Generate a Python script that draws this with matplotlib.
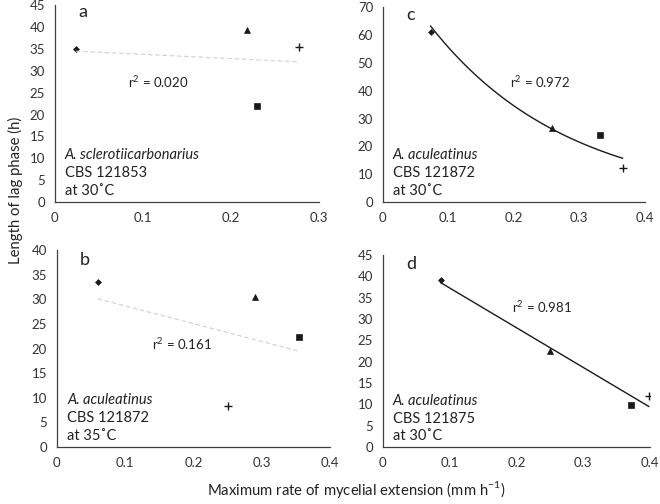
import numpy as np
import matplotlib
matplotlib.use("Agg")
import matplotlib.pyplot as plt

plt.rcParams['font.family'] = ['Lato', 'DejaVu Sans']
plt.rcParams['mathtext.fontset'] = 'custom'
plt.rcParams['mathtext.rm'] = 'Lato'

# panel a: A. sclerotiicarbonarius CBS 121853, 30 C
a_x = [0.024, 0.218, 0.230, 0.278]
a_y = [34.9, 39.3, 21.9, 35.5]
# panel b: A. aculeatinus CBS 121872, 35 C
b_x = [0.060, 0.290, 0.355, 0.250]
b_y = [33.5, 30.5, 22.3, 8.3]
# panel c: A. aculeatinus CBS 121872, 30 C
c_x = [0.073, 0.258, 0.332, 0.366]
c_y = [61.0, 26.6, 24.0, 12.4]
# panel d: A. aculeatinus CBS 121875, 30 C
d_x = [0.0865, 0.250, 0.372, 0.398]
d_y = [39.1, 22.5, 9.8, 11.9]

markers = ['D', '^', 's', '+']
msizes = [3, 5, 5, 6]

panels = [
    dict(name='a', x=a_x, y=a_y, fit='lin', dashed=True, r2='0.020',
         xmax=0.3, xticks=[0, 0.1, 0.2, 0.3], ymax=45, ystep=5,
         species='A. sclerotiicarbonarius', strain='CBS 121853', temp='at 30˚C',
         r2pos=(0.083, 27.4), lab=(0.09, 0.965), pos=[0.083, 0.599, 0.400, 0.391]),
    dict(name='c', x=c_x, y=c_y, fit='exp', dashed=False, r2='0.972',
         xmax=0.4, xticks=[0, 0.1, 0.2, 0.3, 0.4], ymax=70, ystep=10,
         species='A. aculeatinus', strain='CBS 121872', temp='at 30˚C',
         r2pos=(0.194, 43), lab=(0.088, 0.96), pos=[0.580, 0.599, 0.397, 0.387]),
    dict(name='b', x=b_x, y=b_y, fit='lin', dashed=True, r2='0.161',
         xmax=0.4, xticks=[0, 0.1, 0.2, 0.3, 0.4], ymax=40, ystep=5,
         species='A. aculeatinus', strain='CBS 121872', temp='at 35˚C',
         r2pos=(0.139, 20.9), lab=(0.084, 0.95), pos=[0.086, 0.113, 0.414, 0.391]),
    dict(name='d', x=d_x, y=d_y, fit='lin', dashed=False, r2='0.981',
         xmax=0.4, xticks=[0, 0.1, 0.2, 0.3, 0.4], ymax=45, ystep=5,
         species='A. aculeatinus', strain='CBS 121875', temp='at 30˚C',
         r2pos=(0.194, 32.9), lab=(0.086, 0.953), pos=[0.580, 0.113, 0.405, 0.381]),
]

fig = plt.figure(figsize=(6.6, 5.04), dpi=100)

for p in panels:
    ax = fig.add_axes(p['pos'])
    x = np.array(p['x'])
    y = np.array(p['y'])
    for xi, yi, m, s in zip(x, y, markers, msizes):
        ax.plot(xi, yi, marker=m, ms=s, color='#1a1a1a', ls='none',
                mew=1.0 if m == '+' else 0.5)
    xs = np.linspace(x.min(), x.max(), 100)
    if p['fit'] == 'exp':
        k, c = np.polyfit(x, np.log(y), 1)
        ys = np.exp(c + k * xs)
    else:
        k, c = np.polyfit(x, y, 1)
        ys = c + k * xs
    if p['dashed']:
        ax.plot(xs, ys, color='#d0d0d0', lw=0.8, ls=(0, (4, 2.5)))
    else:
        ax.plot(xs, ys, color='#1a1a1a', lw=1.0)

    ax.text(p['r2pos'][0], p['r2pos'][1], 'r$^2$ = ' + p['r2'], fontsize=9.5,
            va='center', color='#222222')
    ax.text(0.038, 0.24, p['species'], transform=ax.transAxes, fontsize=10.5,
            style='italic', va='center', color='#222222')
    ax.text(0.038, 0.147, p['strain'], transform=ax.transAxes, fontsize=10.5,
            va='center', color='#222222')
    ax.text(0.038, 0.058, p['temp'], transform=ax.transAxes, fontsize=10.5,
            va='center', color='#222222')
    ax.text(p['lab'][0], p['lab'][1], p['name'], transform=ax.transAxes,
            fontsize=13, va='center', color='#222222')

    ax.set_xlim(0, p['xmax'])
    ax.set_ylim(0, p['ymax'])
    ax.set_xticks(p['xticks'])
    ax.set_xticklabels(['0'] + [f'{t:.1f}' for t in p['xticks'][1:]])
    ax.set_yticks(np.arange(0, p['ymax'] + 1, p['ystep']))
    ax.tick_params(length=0, labelsize=9.5, colors='#333333', pad=7)
    for side in ['top', 'right']:
        ax.spines[side].set_visible(False)
    for side in ['left', 'bottom']:
        ax.spines[side].set_color('#404040')
        ax.spines[side].set_linewidth(0.9)

fig.text(0.024, 0.623, 'Length of lag phase (h)', rotation=90, ha='center',
         va='center', fontsize=10.75, color='#222222')
fig.text(0.54, 0.028, 'Maximum rate of mycelial extension (mm h$^{\\mathregular{-1}}$)',
         ha='center', va='center', fontsize=10.75, color='#222222')

fig.savefig('out.png', dpi=100, facecolor='white')
